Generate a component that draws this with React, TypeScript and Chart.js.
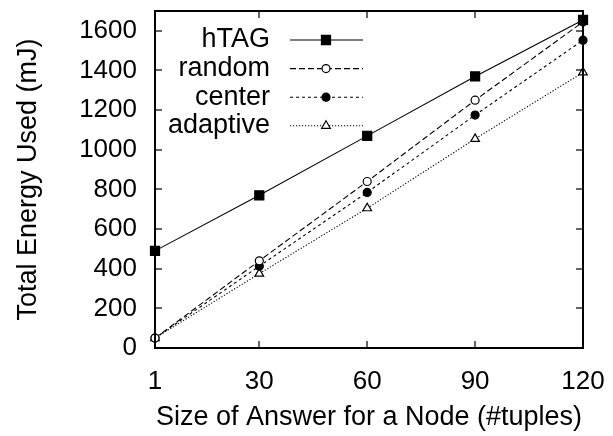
import React, { useEffect, useRef } from "react";
import { Chart, registerables } from "chart.js";

Chart.register(...registerables);

const xValues = [1, 30, 60, 90, 120];
const xTickValues = [1, 30, 60, 90, 120];
const yTickValues = [0, 200, 400, 600, 800, 1000, 1200, 1400, 1600];
const seriesNames = ["hTAG", "random", "center", "adaptive"];
const hTAG = [490, 770, 1070, 1370, 1655];
const random = [50, 440, 840, 1250, 1645];
const center = [50, 413, 785, 1175, 1553];
const adaptive = [50, 375, 705, 1055, 1390];

const FONT = "'Liberation Sans', Arial, Helvetica, sans-serif";

function marker(ctx: CanvasRenderingContext2D, style: string, r: number, fill: string, x: number, y: number) {
  ctx.save();
  ctx.setLineDash([]);
  ctx.lineWidth = 1.2;
  ctx.strokeStyle = "#000";
  ctx.fillStyle = fill;
  ctx.beginPath();
  if (style === "rect") {
    const s = Math.SQRT1_2 * r;
    ctx.rect(x - s, y - s, 2 * s, 2 * s);
  } else if (style === "triangle") {
    ctx.moveTo(x, y - r);
    ctx.lineTo(x + r * 0.866, y + r * 0.5);
    ctx.lineTo(x - r * 0.866, y + r * 0.5);
    ctx.closePath();
  } else {
    ctx.arc(x, y, r, 0, Math.PI * 2);
  }
  ctx.fill();
  ctx.stroke();
  ctx.restore();
}

function drawFrame(chart: any) {
  const ctx: CanvasRenderingContext2D = chart.ctx;
  const area = chart.chartArea;
  const xs = chart.scales.x;
  const ys = chart.scales.y;
  const L = Math.round(area.left);
  const R = Math.round(area.right);
  const T = Math.round(area.top);
  const B = Math.round(area.bottom);
  const w = 2;
  const tl = 7;
  ctx.save();
  ctx.globalAlpha = 1;
  ctx.globalCompositeOperation = "source-over";
  ctx.fillStyle = "#000000";
  ctx.fillRect(L - 1, T - 1, R - L + w, w);
  ctx.fillRect(L - 1, B - 1, R - L + w, w);
  ctx.fillRect(L - 1, T - 1, w, B - T + w);
  ctx.fillRect(R - 1, T - 1, w, B - T + w);
  xTickValues.forEach((v) => {
    const px = Math.round(xs.getPixelForValue(v));
    ctx.fillRect(px - 0.6, B - tl, 1.2, tl);
    ctx.fillRect(px - 0.6, T, 1.2, tl);
  });
  yTickValues.forEach((v) => {
    const py = Math.round(ys.getPixelForValue(v));
    ctx.fillRect(L, py - 0.6, tl, 1.2);
    ctx.fillRect(R - tl, py - 0.6, tl, 1.2);
  });
  ctx.restore();
}

function drawLegend(chart: any) {
  const ctx: CanvasRenderingContext2D = chart.ctx;
  const area = chart.chartArea;
  const textRight = area.left + 115;
  const lineStart = area.left + 135;
  const lineEnd = area.left + 208;
  const markerX = area.left + 171;
  const rowTop = area.top + 29;
  const rowGap = 28.6;
  chart.data.datasets.forEach((ds: any, i: number) => {
    const y = rowTop + i * rowGap;
    ctx.save();
    ctx.font = `27px ${FONT}`;
    ctx.fillStyle = "#000";
    ctx.textAlign = "right";
    ctx.textBaseline = "middle";
    ctx.fillText(ds.label, textRight, y);
    ctx.strokeStyle = "#000";
    ctx.lineWidth = ds.borderWidth;
    ctx.setLineDash(ds.borderDash || []);
    ctx.beginPath();
    ctx.moveTo(lineStart, y);
    ctx.lineTo(lineEnd, y);
    ctx.stroke();
    ctx.restore();
    marker(ctx, ds.pointStyle, ds.pointRadius, ds.pointBackgroundColor, markerX, y);
  });
}

const decorPlugin = {
  id: "decorFrameLegend",
  afterRender(chart: any) {
    drawLegend(chart);
    drawFrame(chart);
  },
};

const zeroPad = (axis: any) => {
  axis.paddingLeft = 0;
  axis.paddingRight = 0;
  axis.paddingTop = 0;
  axis.paddingBottom = 0;
};

export default function App() {
  const canvasRef = useRef<HTMLCanvasElement | null>(null);

  useEffect(() => {
    if (!canvasRef.current) return;
    const mk = (label: string, values: number[], dash: number[], style: string, radius: number, fill: string) => ({
      label,
      data: xValues.map((x, i) => ({ x, y: values[i] })),
      borderColor: "#000",
      borderWidth: 1.1,
      borderDash: dash,
      pointStyle: style,
      pointRadius: radius,
      pointBackgroundColor: fill,
      pointBorderColor: "#000",
      pointBorderWidth: 1.2,
      fill: false,
      tension: 0,
      clip: false as any,
    });
    const chart = new Chart(canvasRef.current, {
      type: "line",
      data: {
        datasets: [
          mk(seriesNames[0], hTAG, [], "rect", 6.4, "#000"),
          mk(seriesNames[1], random, [6, 3], "circle", 4, "#fff"),
          mk(seriesNames[2], center, [3, 3], "circle", 4, "#000"),
          mk(seriesNames[3], adaptive, [1.2, 1.8], "triangle", 5, "#fff"),
        ],
      },
      options: {
        animation: false,
        responsive: false,
        maintainAspectRatio: false,
        layout: { padding: { top: 11, right: 30, left: 0, bottom: 0 } },
        plugins: { legend: { display: false }, tooltip: { enabled: false } },
        scales: {
          x: {
            type: "linear",
            position: "bottom",
            min: 1,
            max: 120,
            afterBuildTicks: (axis: any) => {
              axis.ticks = xTickValues.map((v) => ({ value: v }));
            },
            afterFit: (axis: any) => {
              axis.height = 88;
              zeroPad(axis);
            },
            grid: { display: false, drawTicks: false },
            border: { display: false },
            ticks: {
              color: "#000",
              font: { family: FONT, size: 26 },
              padding: 18,
              maxRotation: 0,
              autoSkip: false,
              callback: (v: any) => String(v),
            },
            title: {
              display: true,
              text: "Size of Answer for a Node (#tuples)",
              color: "#000",
              font: { family: FONT, size: 27 },
              padding: { top: 0, bottom: 2 },
            },
          },
          y: {
            type: "linear",
            position: "left",
            min: 0,
            max: 1700,
            afterBuildTicks: (axis: any) => {
              axis.ticks = yTickValues.map((v) => ({ value: v }));
            },
            afterFit: (axis: any) => {
              axis.width = 155;
              zeroPad(axis);
            },
            grid: { display: false, drawTicks: false },
            border: { display: false },
            ticks: {
              color: "#000",
              font: { family: FONT, size: 26 },
              padding: 18,
              autoSkip: false,
              callback: (v: any) => String(v),
            },
            title: {
              display: true,
              text: "Total Energy Used (mJ)",
              color: "#000",
              font: { family: FONT, size: 27 },
              padding: { top: 12, bottom: 0 },
            },
          },
        },
      },
      plugins: [decorPlugin],
    });
    return () => chart.destroy();
  }, []);

  return (
    <div style={{ position: "fixed", left: 0, top: 0, width: 613, height: 436, background: "#fff" }}>
      <canvas ref={canvasRef} width={613} height={436} style={{ width: 613, height: 436 }} />
    </div>
  );
}
